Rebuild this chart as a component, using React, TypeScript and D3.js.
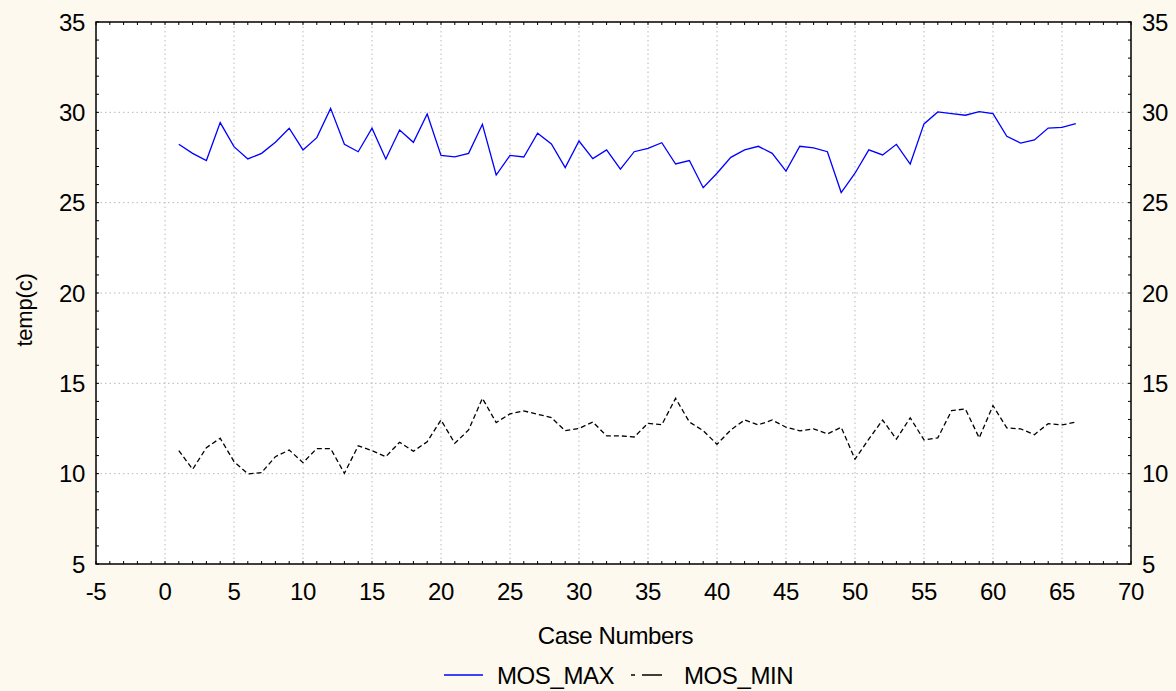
import React from "react";
import * as d3 from "d3";

const cases: number[] = d3.range(1, 67);
const mosMax: number[] = [
  28.23, 27.73, 27.33, 29.43, 28.1, 27.42, 27.73, 28.34, 29.12, 27.92,
  28.6, 30.22, 28.23, 27.82, 29.12, 27.42, 29.02, 28.34, 29.91, 27.62,
  27.53, 27.73, 29.34, 26.53, 27.62, 27.53, 28.84, 28.25, 26.94, 28.41,
  27.44, 27.92, 26.85, 27.82, 28.01, 28.32, 27.14, 27.33, 25.83, 26.63,
  27.51, 27.92, 28.12, 27.73, 26.75, 28.12, 28.03, 27.82, 25.56, 26.63,
  27.92, 27.64, 28.23, 27.14, 29.36, 30.02, 29.93, 29.84, 30.04, 29.93,
  28.67, 28.3, 28.47, 29.13, 29.17, 29.37,
];
const mosMin: number[] = [
  11.28, 10.24, 11.44, 11.96, 10.67, 9.99, 10.06, 10.94, 11.31, 10.61,
  11.39, 11.39, 10.02, 11.54, 11.28, 10.94, 11.74, 11.24, 11.77, 12.97,
  11.68, 12.42, 14.17, 12.83, 13.31, 13.47, 13.29, 13.1, 12.38, 12.5,
  12.86, 12.09, 12.09, 12.03, 12.79, 12.71, 14.17, 12.86, 12.38, 11.63,
  12.42, 12.97, 12.7, 12.97, 12.57, 12.37, 12.48, 12.2, 12.57, 10.8,
  11.91, 12.97, 11.91, 13.09, 11.87, 11.98, 13.49, 13.58, 11.98, 13.77,
  12.53, 12.48, 12.16, 12.77, 12.7, 12.85,
];
const xTicks: number[] = d3.range(-5, 71, 5);
const yTicks: number[] = d3.range(5, 36, 5);
const xMinor: number[] = d3.range(-5, 71, 1);
const yMinor: number[] = d3.range(5, 36, 1);

const W = 1176;
const H = 691;
const L = 96, R = 1131, T = 22, B = 564;
const FONT = "'Liberation Sans', Arial, sans-serif";

export default function App() {
  const x = d3.scaleLinear().domain([-5, 70]).range([L, R]);
  const y = d3.scaleLinear().domain([5, 35]).range([B, T]);
  const line = d3
    .line<number>()
    .x((_, i) => x(cases[i]))
    .y((d) => y(d));

  const textStyle: React.CSSProperties = {
    fontFamily: FONT,
    fontSize: 24,
    letterSpacing: "-0.4px",
    fill: "#000",
  };

  return (
    <svg
      width={W}
      height={H}
      style={{ position: "absolute", left: 0, top: 0, display: "block" }}
    >
      <rect x={0} y={0} width={W} height={H} fill="#FDF9EE" />
      <rect x={L} y={T} width={R - L} height={B - T} fill="#fff" />
      {/* grid */}
      {xTicks
        .filter((t) => t > -5 && t < 70)
        .map((t) => (
          <line
            key={"gx" + t}
            x1={x(t)}
            x2={x(t)}
            y1={T}
            y2={B}
            stroke="#b8b8b8"
            strokeWidth={1}
            strokeDasharray="1.5,3"
          />
        ))}
      {yTicks
        .filter((t) => t > 5 && t < 35)
        .map((t) => (
          <line
            key={"gy" + t}
            x1={L}
            x2={R}
            y1={y(t)}
            y2={y(t)}
            stroke="#b8b8b8"
            strokeWidth={1}
            strokeDasharray="1.5,3"
          />
        ))}
      {/* minor ticks */}
      {xMinor.map((t) => (
        <g key={"tx" + t}>
          <line x1={x(t)} x2={x(t)} y1={B} y2={B - 3} stroke="#000" strokeWidth={1} />
          <line x1={x(t)} x2={x(t)} y1={T} y2={T + 3} stroke="#000" strokeWidth={1} />
        </g>
      ))}
      {yMinor.map((t) => (
        <g key={"ty" + t}>
          <line x1={L} x2={L + 3} y1={y(t)} y2={y(t)} stroke="#000" strokeWidth={1} />
          <line x1={R} x2={R - 3} y1={y(t)} y2={y(t)} stroke="#000" strokeWidth={1} />
        </g>
      ))}
      {/* series */}
      <path d={line(mosMax) || ""} fill="none" stroke="#0000ff" strokeWidth={1.3} />
      <path
        d={line(mosMin) || ""}
        fill="none"
        stroke="#000"
        strokeWidth={1.3}
        strokeDasharray="5,3"
      />
      {/* frame */}
      <rect x={L} y={T} width={R - L} height={B - T} fill="none" stroke="#000" strokeWidth={1.5} />
      {/* tick labels */}
      {xTicks.map((t) => (
        <text key={"lx" + t} x={x(t)} y={600} textAnchor="middle" style={textStyle}>
          {t}
        </text>
      ))}
      {yTicks.map((t) => (
        <text key={"ly" + t} x={85} y={y(t) + 8.5} textAnchor="end" style={textStyle}>
          {t}
        </text>
      ))}
      {yTicks.map((t) => (
        <text key={"ry" + t} x={1142} y={y(t) + 8.5} textAnchor="start" style={textStyle}>
          {t}
        </text>
      ))}
      {/* axis titles */}
      <text x={(L + R) / 2 + 2} y={644} textAnchor="middle" style={textStyle}>
        Case Numbers
      </text>
      <text
        transform={`translate(32,${310}) rotate(-90)`}
        textAnchor="middle"
        style={{ ...textStyle, fontSize: 22, letterSpacing: "-0.2px" }}
      >
        temp(c)
      </text>
      {/* legend */}
      <line x1={444} x2={483} y1={675} y2={675} stroke="#0000ff" strokeWidth={1.3} />
      <text x={497} y={684} style={textStyle}>
        MOS_MAX
      </text>
      <line
        x1={631}
        x2={665}
        y1={675}
        y2={675}
        stroke="#000"
        strokeWidth={1.3}
        strokeDasharray="4,7,20"
      />
      <text x={684} y={684} style={textStyle}>
        MOS_MIN
      </text>
    </svg>
  );
}
